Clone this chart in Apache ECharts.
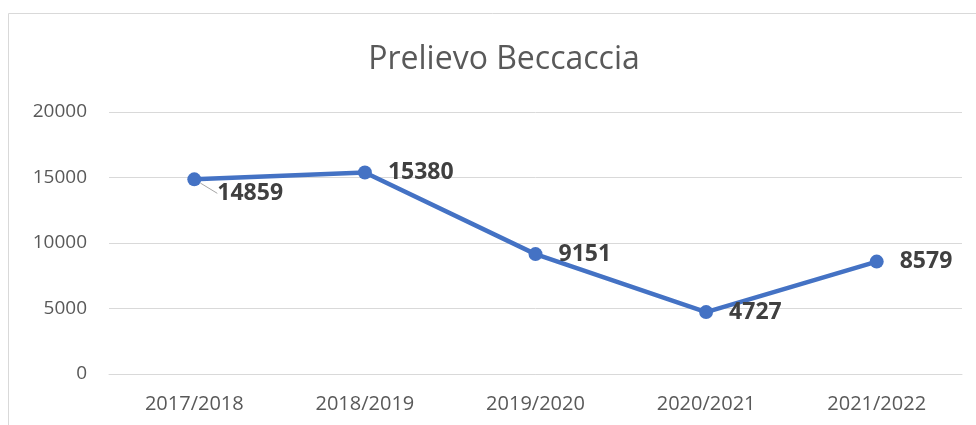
<!DOCTYPE html>
<html>
<head>
<meta charset="utf-8">
<script src="https://cdn.jsdelivr.net/npm/echarts@6/dist/echarts.min.js"></script>
<style>
  html, body { margin: 0; padding: 0; background: #fff; }
  #chart { width: 976px; height: 425px; }
</style>
</head>
<body>
<div id="chart"></div>
<script>
// dati
var seasons = ['2017/2018', '2018/2019', '2019/2020', '2020/2021', '2021/2022'];
var prelievo = [14859, 15380, 9151, 4727, 8579];
var yTicks = [0, 5000, 10000, 15000, 20000];

var font = 'Open Sans';
var chart = echarts.init(document.getElementById('chart'));

chart.setOption({
  animation: false,
  title: {
    text: 'Prelievo Beccaccia',
    left: 499,
    textAlign: 'center',
    top: 39,
    textStyle: { fontFamily: font, fontSize: 32, fontWeight: 'normal', color: '#595959' }
  },
  // bordo dell'area grafico
  graphic: [{
    type: 'rect',
    shape: { x: 8.5, y: 13.5, width: 1000, height: 500 },
    style: { fill: 'none', stroke: '#d9d9d9', lineWidth: 1 },
    silent: true
  }],
  grid: { left: 109, right: 14, top: 112, bottom: 51 },
  xAxis: {
    type: 'category',
    data: seasons,
    axisLine: { show: true, lineStyle: { color: '#d9d9d9', width: 1 } },
    axisTick: { show: false },
    axisLabel: { fontFamily: font, fontSize: 20, color: '#595959', margin: 20 }
  },
  yAxis: {
    type: 'value',
    min: yTicks[0],
    max: yTicks[yTicks.length - 1],
    interval: 5000,
    axisLine: { show: false },
    axisTick: { show: false },
    splitLine: { lineStyle: { color: '#d9d9d9', width: 1 } },
    axisLabel: {
      fontFamily: font, fontSize: 19, color: '#595959', margin: 22,
      formatter: function (v) { return String(v); }
    }
  },
  series: [{
    type: 'line',
    data: prelievo.map(function (v, i) {
      if (i === 0) {
        return { value: v, labelLine: { show: true, lineStyle: { color: '#a6a6a6', width: 1 } } };
      }
      if (i === 3) {
        return { value: v, label: { offset: [0, 4] } };
      }
      return v;
    }),
    symbol: 'circle',
    symbolSize: 14,
    lineStyle: { color: '#4472c4', width: 4.5 },
    itemStyle: { color: '#4472c4' },
    label: {
      show: true,
      position: 'right',
      distance: 16,
      fontFamily: font,
      fontSize: 23,
      fontWeight: 'bold',
      color: '#404040'
    },
    labelLayout: function (params) {
      if (params.dataIndex === 0) return { dy: 14 };
      return {};
    }
  }]
});
</script>
</body>
</html>
